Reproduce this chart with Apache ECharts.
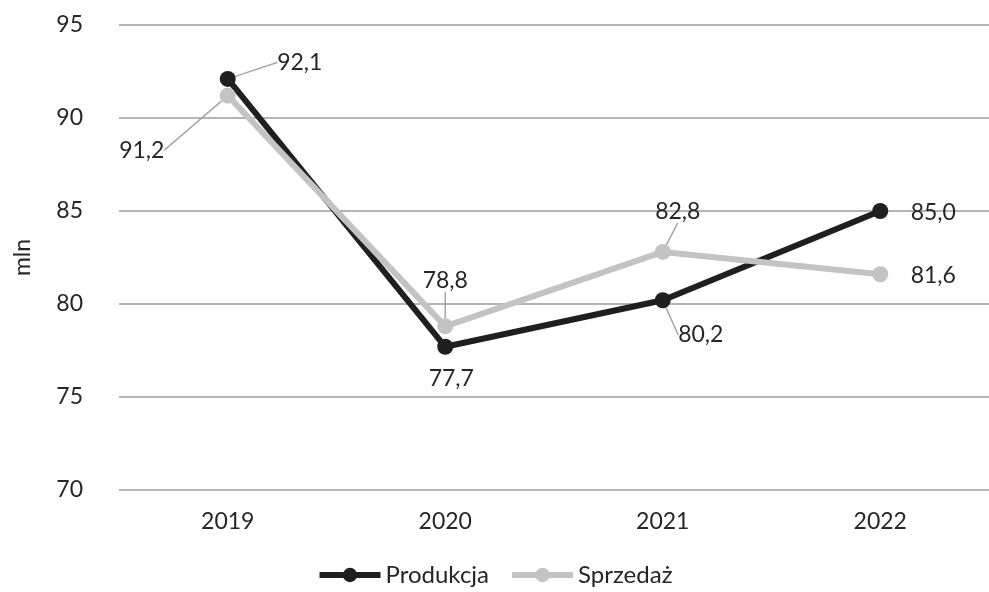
<!DOCTYPE html>
<html>
<head>
<meta charset="utf-8">
<script src="https://cdn.jsdelivr.net/npm/echarts@6/dist/echarts.min.js"></script>
<style>
  html, body { margin: 0; padding: 0; background: #fff; }
  #chart { width: 989px; height: 592px; }
</style>
</head>
<body>
<div id="chart"></div>
<script>
// data
const years = ['2019', '2020', '2021', '2022'];
const produkcja = [92.1, 77.7, 80.2, 85.0];
const sprzedaz = [91.2, 78.8, 82.8, 81.6];

// label placement per point (dx, dy from default top position, leader line on/off)
const prodLabels = [
  { dx: 72, dy: 8, line: true },
  { dx: 6, dy: 56, line: false },
  { dx: 38, dy: 59, line: true },
  { dx: 53, dy: 26, line: false }
];
const sprzLabels = [
  { dx: -86, dy: 79, line: true },
  { dx: 0, dy: -21, line: true },
  { dx: 15, dy: -16, line: true },
  { dx: 53, dy: 26, line: false }
];

const FONT = 'Lato';
const FS = 23;
const fmt = v => v.toFixed(1).replace('.', ',');

function buildData(values, layout) {
  return values.map((v, i) => ({
    value: v,
    labelLine: { show: layout[i].line }
  }));
}

const chart = echarts.init(document.getElementById('chart'), null, { renderer: 'canvas' });

function mkSeries(name, values, layout, color) {
  return {
    name: name,
    type: 'line',
    data: buildData(values, layout),
    symbol: 'circle',
    symbolSize: 16,
    lineStyle: { color: color, width: 6 },
    itemStyle: { color: color },
    animation: false,
    label: {
      show: true,
      position: 'top',
      fontFamily: FONT,
      fontSize: FS,
      color: '#262626',
      formatter: p => fmt(p.value)
    },
    labelLine: {
      show: true,
      lineStyle: { color: '#a6a6a6', width: 1.5 }
    },
    labelLayout: function (p) {
      const l = layout[p.dataIndex];
      return { dx: l.dx, dy: l.dy };
    }
  };
}

chart.setOption({
  backgroundColor: '#ffffff',
  grid: { left: 119, right: -10, top: 25, bottom: 102 },
  legend: {
    bottom: 0,
    left: 'center',
    itemWidth: 61,
    itemHeight: 18,
    itemGap: 20,
    lineStyle: { width: 6 },
    textStyle: { fontFamily: FONT, fontSize: 24, color: '#262626' },
    data: ['Produkcja', 'Sprzedaż']
  },
  xAxis: {
    type: 'category',
    data: years,
    boundaryGap: true,
    axisLine: { show: false },
    axisTick: { show: false },
    axisLabel: { fontFamily: FONT, fontSize: FS, color: '#262626', margin: 20 }
  },
  yAxis: {
    type: 'value',
    min: 70,
    max: 95,
    interval: 5,
    name: 'mln',
    nameLocation: 'middle',
    nameGap: 85,
    nameTextStyle: { fontFamily: FONT, fontSize: FS, color: '#262626' },
    axisLine: { show: false },
    axisTick: { show: false },
    axisLabel: { fontFamily: FONT, fontSize: FS, color: '#262626', margin: 36 },
    splitLine: { lineStyle: { color: '#b4b4b4', width: 2 } }
  },
  series: [
    mkSeries('Produkcja', produkcja, prodLabels, '#1f1f1f'),
    mkSeries('Sprzedaż', sprzedaz, sprzLabels, '#c3c3c3')
  ]
});
</script>
</body>
</html>
